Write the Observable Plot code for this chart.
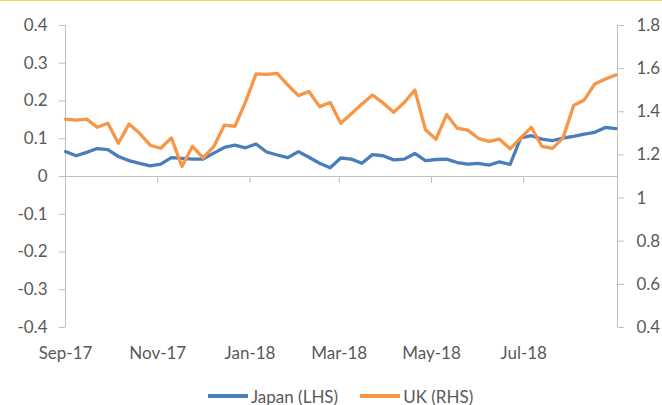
<!DOCTYPE html>
<html>
<head>
<meta charset="utf-8">
<script src="https://cdn.jsdelivr.net/npm/d3@7"></script>
<script src="https://cdn.jsdelivr.net/npm/@observablehq/plot@0.6"></script>
<style>
  body { margin: 0; background: #fff; font-family: Lato, "Open Sans", sans-serif; }
  #wrap { position: relative; width: 662px; height: 405px; overflow: hidden; }
  #topline { position: absolute; left: 0; top: 0; width: 662px; height: 1px; background: #ffd24d; }
  #legend { display: flex; align-items: center; margin-left: 208px; margin-top: 6px; height: 20px; font-size: 17px; color: #595959; }
  .sw { display: inline-block; width: 40px; height: 3.5px; margin-right: 3px; }
  .item { display: flex; align-items: center; margin-right: 22px; }
</style>
</head>
<body>
<div id="wrap"><div id="topline"></div><div id="chart"></div>
<div id="legend"></div></div>
<script>
const dates = ["2017-09-01","2017-09-08","2017-09-15","2017-09-22","2017-09-29","2017-10-06","2017-10-13","2017-10-20","2017-10-27","2017-11-03","2017-11-10","2017-11-17","2017-11-24","2017-12-01","2017-12-08","2017-12-15","2017-12-22","2017-12-29","2018-01-05","2018-01-12","2018-01-19","2018-01-26","2018-02-02","2018-02-09","2018-02-16","2018-02-23","2018-03-02","2018-03-09","2018-03-16","2018-03-23","2018-03-30","2018-04-06","2018-04-13","2018-04-20","2018-04-27","2018-05-04","2018-05-11","2018-05-18","2018-05-25","2018-06-01","2018-06-08","2018-06-15","2018-06-22","2018-06-29","2018-07-06","2018-07-13","2018-07-20","2018-07-27","2018-08-03","2018-08-10","2018-08-17","2018-08-24","2018-08-31"];
const japan = [0.066,0.055,0.064,0.074,0.071,0.053,0.042,0.035,0.028,0.033,0.050,0.048,0.046,0.046,0.062,0.077,0.083,0.076,0.086,0.065,0.057,0.050,0.066,0.051,0.035,0.023,0.049,0.046,0.035,0.058,0.055,0.044,0.046,0.061,0.042,0.045,0.046,0.037,0.033,0.035,0.030,0.039,0.032,0.102,0.108,0.099,0.095,0.102,0.106,0.112,0.117,0.130,0.127];
const uk = [1.366,1.361,1.366,1.328,1.347,1.254,1.343,1.300,1.245,1.231,1.279,1.147,1.240,1.186,1.238,1.338,1.333,1.445,1.576,1.573,1.578,1.524,1.475,1.494,1.424,1.443,1.347,1.391,1.436,1.478,1.441,1.398,1.443,1.501,1.317,1.273,1.387,1.324,1.315,1.277,1.263,1.273,1.228,1.279,1.328,1.240,1.230,1.279,1.429,1.455,1.529,1.552,1.571];
const seriesNames = ["Japan (LHS)", "UK (RHS)"];
const colors = ["#4a7ebb", "#f79646"];
const leftTicks = [-0.4,-0.3,-0.2,-0.1,0,0.1,0.2,0.3,0.4];
const rightTicks = [0.4,0.6,0.8,1,1.2,1.4,1.6,1.8];
const xTickLabels = ["2017-09-01","2017-11-01","2018-01-01","2018-03-01","2018-05-01","2018-07-01"];
const xDomain = ["2017-09-01","2018-09-01"];

const leftDomain = [-0.4, 0.4];
const rightDomain = [0.4, 1.8];
// map right-axis value to left-axis scale
const toLeft = v => leftDomain[0] + (v - rightDomain[0]) * (leftDomain[1]-leftDomain[0]) / (rightDomain[1]-rightDomain[0]);
const toRight = v => rightDomain[0] + (v - leftDomain[0]) * (rightDomain[1]-rightDomain[0]) / (leftDomain[1]-leftDomain[0]);
const fmt = v => String(Math.round(v * 10) / 10);

const pd = d3.utcParse("%Y-%m-%d");
const rows = [];
dates.forEach((d, i) => {
  rows.push({date: pd(d), series: seriesNames[0], v: japan[i]});
});
dates.forEach((d, i) => {
  rows.push({date: pd(d), series: seriesNames[1], v: toLeft(uk[i])});
});
const xt = xTickLabels.map(pd);
const axisColor = "#bfbfbf";

const chart = Plot.plot({
  width: 662,
  height: 380,
  marginTop: 25,
  marginBottom: 53,
  marginLeft: 65,
  marginRight: 45,
  style: {fontFamily: "Lato, 'Open Sans', sans-serif", fontSize: "17px", color: "#595959", background: "transparent"},
  x: {type: "utc", domain: xDomain.map(pd)},
  y: {domain: leftDomain},
  marks: [
    Plot.ruleX([pd(xDomain[0]), pd(xDomain[1])], {stroke: axisColor, strokeWidth: 1}),
    Plot.ruleY([0], {stroke: axisColor, strokeWidth: 1}),
    Plot.ruleX(xt, {x: d => d, y1: 0, y2: 0, insetBottom: -7, stroke: axisColor}),
    Plot.axisY({anchor: "left", label: null, ticks: leftTicks, tickSize: 6, tickPadding: 12, tickFormat: fmt, stroke: axisColor, fill: "#595959"}),
    Plot.axisY({anchor: "right", label: null, ticks: rightTicks.map(toLeft), tickSize: 6, tickPadding: 13, tickFormat: d => fmt(toRight(d)), stroke: axisColor, fill: "#595959"}),
    Plot.axisX({anchor: "bottom", label: null, ticks: xt, tickSize: 0, tickPadding: 19, tickFormat: d3.utcFormat("%b-%y"), fill: "#595959"}),
    Plot.line(rows.filter(r => r.series === seriesNames[0]), {x: "date", y: "v", stroke: colors[0], strokeWidth: 3.3, strokeLinejoin: "round", strokeLinecap: "round"}),
    Plot.line(rows.filter(r => r.series === seriesNames[1]), {x: "date", y: "v", stroke: colors[1], strokeWidth: 3.3, strokeLinejoin: "round", strokeLinecap: "round"})
  ]
});
document.getElementById("chart").appendChild(chart);

const legend = document.getElementById("legend");
seriesNames.forEach((name, i) => {
  const it = document.createElement("div");
  it.className = "item";
  const sw = document.createElement("span");
  sw.className = "sw";
  sw.style.background = colors[i];
  const tx = document.createElement("span");
  tx.textContent = name;
  it.appendChild(sw); it.appendChild(tx);
  legend.appendChild(it);
});
</script>
</body>
</html>
